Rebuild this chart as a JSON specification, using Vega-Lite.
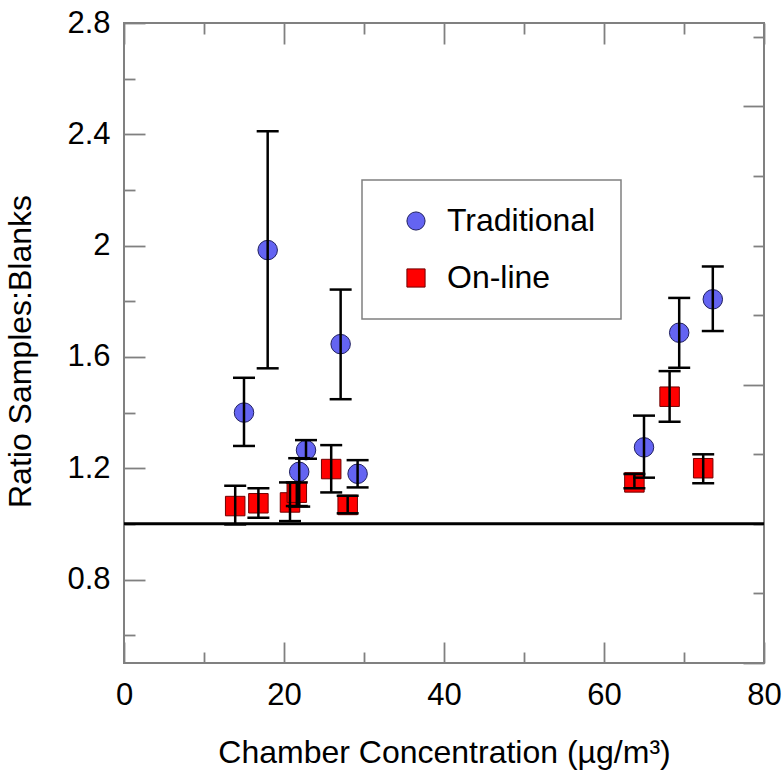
{
  "$schema": "https://vega.github.io/schema/vega-lite/v6.json",
  "width": 640,
  "height": 640,
  "padding": {"left": 4, "top": 7, "right": 19, "bottom": 2},
  "background": "white",
  "config": {
    "font": "Liberation Sans",
    "view": {"stroke": "#808080", "strokeWidth": 2},
    "axis": {
      "domain": false,
      "grid": false,
      "tickColor": "#808080",
      "tickWidth": 1.8,
      "labelFont": "Liberation Sans",
      "labelFontSize": 31,
      "labelColor": "black",
      "labelOverlap": false,
      "labelFlush": false,
      "titleFont": "Liberation Sans",
      "titleFontSize": 32,
      "titleFontWeight": "normal",
      "titleColor": "black"
    },
    "legend": {"strokeWidth": 1.5}
  },
  "data": {
    "values": [
      {"series": "Traditional", "conc": 15.0, "ratio": 1.40, "lo": 1.28, "hi": 1.525},
      {"series": "Traditional", "conc": 17.96, "ratio": 1.984, "lo": 1.559, "hi": 2.411},
      {"series": "Traditional", "conc": 21.9, "ratio": 1.187, "lo": 1.062, "hi": 1.236},
      {"series": "Traditional", "conc": 22.75, "ratio": 1.265, "lo": 1.234, "hi": 1.301},
      {"series": "Traditional", "conc": 27.08, "ratio": 1.646, "lo": 1.448, "hi": 1.842},
      {"series": "Traditional", "conc": 29.2, "ratio": 1.18, "lo": 1.131, "hi": 1.229},
      {"series": "Traditional", "conc": 65.0, "ratio": 1.275, "lo": 1.166, "hi": 1.389},
      {"series": "Traditional", "conc": 69.4, "ratio": 1.687, "lo": 1.561, "hi": 1.812},
      {"series": "Traditional", "conc": 73.6, "ratio": 1.807, "lo": 1.693, "hi": 1.925},
      {"series": "On-line", "conc": 13.9, "ratio": 1.064, "lo": 0.998, "hi": 1.137},
      {"series": "On-line", "conc": 16.8, "ratio": 1.074, "lo": 1.022, "hi": 1.128},
      {"series": "On-line", "conc": 20.75, "ratio": 1.077, "lo": 1.01, "hi": 1.149},
      {"series": "On-line", "conc": 21.6, "ratio": 1.112, "lo": 1.064, "hi": 1.149},
      {"series": "On-line", "conc": 25.9, "ratio": 1.197, "lo": 1.113, "hi": 1.283},
      {"series": "On-line", "conc": 27.96, "ratio": 1.068, "lo": 1.038, "hi": 1.101},
      {"series": "On-line", "conc": 63.8, "ratio": 1.149, "lo": 1.128, "hi": 1.179},
      {"series": "On-line", "conc": 68.2, "ratio": 1.457, "lo": 1.367, "hi": 1.549},
      {"series": "On-line", "conc": 72.4, "ratio": 1.2, "lo": 1.146, "hi": 1.25}
    ]
  },
  "layer": [
    {
      "mark": {"type": "point", "opacity": 0},
      "encoding": {
        "x": {"field": "conc", "type": "quantitative", "scale": {"domain": [0, 80], "nice": false, "zero": false},
          "axis": {"orient": "bottom", "values": [0, 20, 40, 60, 80], "tickSize": -21, "labelPadding": 38, "title": "Chamber Concentration (µg/m³)", "titlePadding": 27}},
        "y": {"field": "ratio", "type": "quantitative", "scale": {"domain": [0.5, 2.8], "nice": false, "zero": false},
          "axis": {"orient": "left", "values": [0.8, 1.2, 1.6, 2, 2.4, 2.8], "format": ".1~f", "tickSize": -21, "labelPadding": 35, "title": "Ratio Samples:Blanks", "titlePadding": 29, "titleY": 328}}
      }
    },
    {
      "mark": {"type": "point", "opacity": 0},
      "encoding": {
        "x": {"field": "conc", "type": "quantitative", "scale": {"domain": [0, 80], "nice": false, "zero": false},
          "axis": {"orient": "bottom", "values": [10, 30, 50, 70], "tickSize": -11, "labels": false, "title": null}},
        "y": {"field": "ratio", "type": "quantitative", "scale": {"domain": [0.5, 2.8], "nice": false, "zero": false},
          "axis": {"orient": "left", "values": [0.6, 1.0, 1.4, 1.8, 2.2, 2.6], "tickSize": -11, "labels": false, "title": null}}
      }
    },
    {
      "mark": {"type": "point", "opacity": 0},
      "encoding": {
        "x": {"field": "conc", "type": "quantitative", "scale": {"domain": [0, 80], "nice": false, "zero": false},
          "axis": {"orient": "top", "values": [0, 20, 40, 60, 80], "tickSize": -21, "labels": false, "title": null}},
        "y": {"field": "ratio", "type": "quantitative", "scale": {"domain": [0.5, 2.8], "nice": false, "zero": false},
          "axis": {"orient": "right", "values": [0.5, 1.5, 2.5], "tickSize": -21, "labels": false, "title": null}}
      }
    },
    {
      "mark": {"type": "point", "opacity": 0},
      "encoding": {
        "x": {"field": "conc", "type": "quantitative", "scale": {"domain": [0, 80], "nice": false, "zero": false},
          "axis": {"orient": "top", "values": [10, 30, 50, 70], "tickSize": -11, "labels": false, "title": null}},
        "y": {"field": "ratio", "type": "quantitative", "scale": {"domain": [0.5, 2.8], "nice": false, "zero": false},
          "axis": {"orient": "right", "values": [0.75, 1.0, 1.25, 1.75, 2.0, 2.25, 2.75], "tickSize": -11, "labels": false, "title": null}}
      }
    },
    {
      "data": {"values": [{"ref": 1}]},
      "mark": {"type": "rule", "color": "black", "strokeWidth": 3},
      "encoding": {
        "y": {"field": "ref", "type": "quantitative", "scale": {"domain": [0.5, 2.8], "nice": false, "zero": false}, "axis": null}
      }
    },
    {
      "mark": {"type": "point", "filled": true, "size": 380, "opacity": 1, "strokeWidth": 1},
      "encoding": {
        "x": {"field": "conc", "type": "quantitative", "scale": {"domain": [0, 80], "nice": false, "zero": false}, "axis": null},
        "y": {"field": "ratio", "type": "quantitative", "scale": {"domain": [0.5, 2.8], "nice": false, "zero": false}, "axis": null},
        "fill": {"field": "series", "type": "nominal",
          "scale": {"domain": ["Traditional", "On-line"], "range": ["#6464F2", "#FF0000"]},
          "legend": {"title": null, "orient": "none", "legendX": 238, "legendY": 157, "strokeColor": "#808080", "fillColor": "white", "padding": 25, "symbolOffset": 13, "labelOffset": 15, "labelFontSize": 32, "labelFont": "Liberation Sans", "labelColor": "black", "symbolSize": 330, "rowPadding": 25, "symbolStrokeWidth": 1}},
        "shape": {"field": "series", "type": "nominal", "scale": {"domain": ["Traditional", "On-line"], "range": ["circle", "square"]}},
        "stroke": {"field": "series", "type": "nominal", "scale": {"domain": ["Traditional", "On-line"], "range": ["#202060", "#700000"]}}
      }
    },
    {
      "mark": {"type": "rule", "color": "black", "strokeWidth": 2.5},
      "encoding": {
        "x": {"field": "conc", "type": "quantitative", "scale": {"domain": [0, 80], "nice": false, "zero": false}, "axis": null},
        "y": {"field": "lo", "type": "quantitative", "scale": {"domain": [0.5, 2.8], "nice": false, "zero": false}, "axis": null},
        "y2": {"field": "hi"}
      }
    },
    {
      "mark": {"type": "tick", "orient": "horizontal", "color": "black", "size": 22, "thickness": 2.5, "opacity": 1},
      "encoding": {
        "x": {"field": "conc", "type": "quantitative", "scale": {"domain": [0, 80], "nice": false, "zero": false}, "axis": null},
        "y": {"field": "lo", "type": "quantitative", "scale": {"domain": [0.5, 2.8], "nice": false, "zero": false}, "axis": null}
      }
    },
    {
      "mark": {"type": "tick", "orient": "horizontal", "color": "black", "size": 22, "thickness": 2.5, "opacity": 1},
      "encoding": {
        "x": {"field": "conc", "type": "quantitative", "scale": {"domain": [0, 80], "nice": false, "zero": false}, "axis": null},
        "y": {"field": "hi", "type": "quantitative", "scale": {"domain": [0.5, 2.8], "nice": false, "zero": false}, "axis": null}
      }
    }
  ],
  "resolve": {"axis": {"x": "independent", "y": "independent"}}
}
